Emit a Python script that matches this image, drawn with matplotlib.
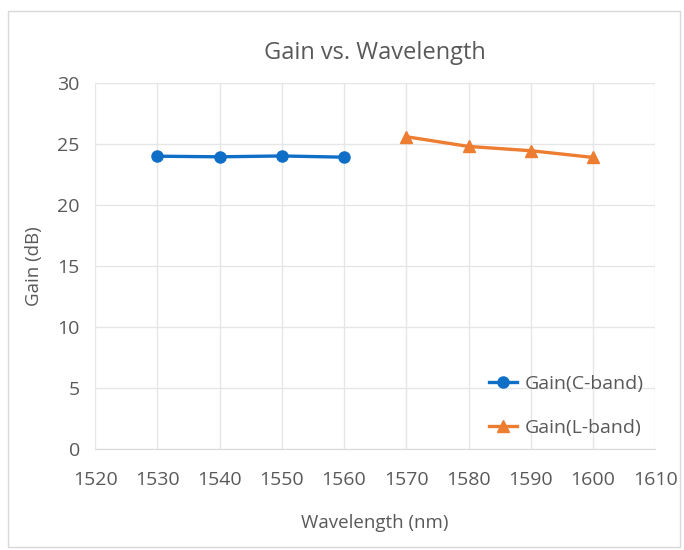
import matplotlib.pyplot as plt
from matplotlib.patches import Rectangle

c_wavelength = [1530, 1540, 1550, 1560]
c_gain = [24.0, 23.95, 24.02, 23.92]
l_wavelength = [1570, 1580, 1590, 1600]
l_gain = [25.6, 24.8, 24.45, 23.9]

plt.rcParams['font.family'] = ['Open Sans', 'DejaVu Sans']
text_color = '#595959'

fig = plt.figure(figsize=(6.84, 5.5), dpi=100)
fig.patches.append(Rectangle((0.012, 0.005), 0.982, 0.975, transform=fig.transFigure,
                             fill=False, edgecolor='#d9d9d9', linewidth=1))
ax = fig.add_axes([0.139, 0.184, 0.819, 0.665])

ax.plot(c_wavelength, c_gain, color='#0f6fc6', marker='o', markersize=8,
        linewidth=2.4, label='Gain(C-band)')
ax.plot(l_wavelength, l_gain, color='#ed7d31', marker='^', markersize=9,
        linewidth=2.4, label='Gain(L-band)')

ax.set_xlim(1520, 1610)
ax.set_ylim(0, 30)
ax.set_xticks(range(1520, 1611, 10))
ax.set_yticks(range(0, 31, 5))
ax.grid(True, color='#e6e6e6', linewidth=1)
ax.set_axisbelow(True)
for side in ['top', 'right', 'left']:
    ax.spines[side].set_visible(False)
ax.spines['bottom'].set_color('#d9d9d9')
ax.tick_params(length=0, labelsize=14, colors=text_color)
ax.tick_params(axis='x', pad=16)
ax.tick_params(axis='y', pad=11)

ax.set_title('Gain vs. Wavelength', fontsize=17, color=text_color, pad=17)
ax.set_xlabel('Wavelength (nm)', fontsize=13.5, color=text_color, labelpad=18)
ax.set_ylabel('Gain (dB)', fontsize=13.5, color=text_color, labelpad=10)

leg = ax.legend(loc='lower right', bbox_to_anchor=(1.01, -0.015), frameon=False,
                fontsize=14, labelcolor=text_color, handlelength=1.4,
                handletextpad=0.4, labelspacing=1.35)

fig.savefig('out.png', dpi=100)
